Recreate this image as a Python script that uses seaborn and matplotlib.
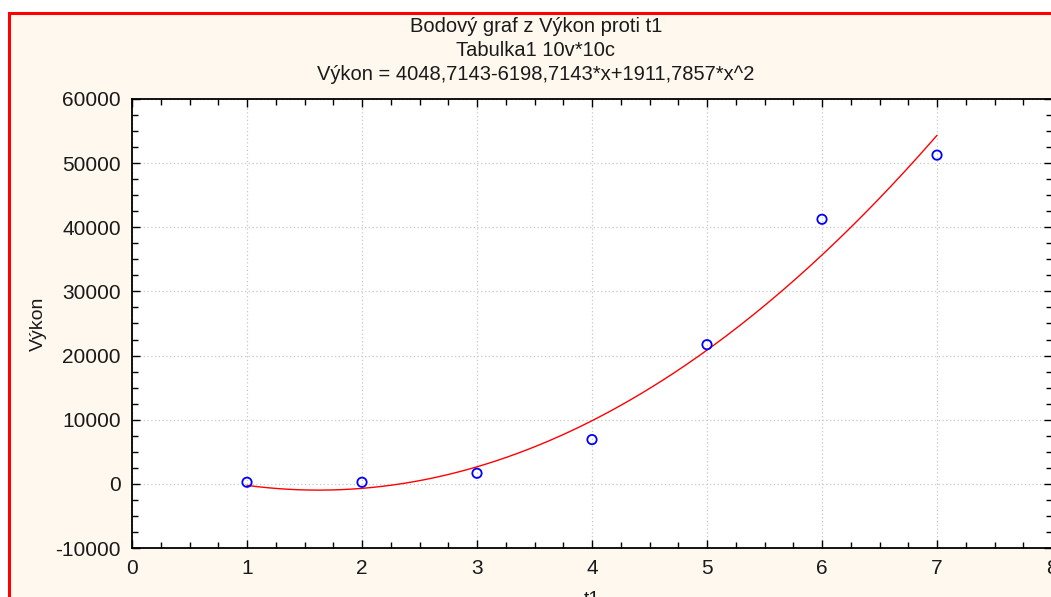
import numpy as np
import pandas as pd
import matplotlib
matplotlib.use("Agg")
import matplotlib.pyplot as plt
from matplotlib.patches import Rectangle
from matplotlib.ticker import MultipleLocator
import seaborn as sns

# Measured data
t1 = [1, 2, 3, 4, 5, 6, 7]
vykon = [250, 250, 1650, 6900, 21700, 41250, 51250]

# Quadratic fit coefficients (a + b*x + c*x^2)
coef_a = 4048.7143
coef_b = -6198.7143
coef_c = 1911.7857

title_lines = [
    "Bodový graf z Výkon proti t1",
    "Tabulka1 10v*10c",
    "Výkon = 4048,7143-6198,7143*x+1911,7857*x^2",
]
x_ticks = [0, 1, 2, 3, 4, 5, 6, 7, 8]
y_ticks = [-10000, 0, 10000, 20000, 30000, 40000, 50000, 60000]

sns.set_style("ticks")
plt.rcParams["font.family"] = ["Liberation Sans", "DejaVu Sans"]

W, H = 1051, 597
fig = plt.figure(figsize=(W / 100, H / 100), dpi=100, facecolor="white")

# Cream panel with red frame
panel = Rectangle((9 / W, -0.05), 1.2, (H - 13) / H + 0.05, transform=fig.transFigure,
                  facecolor="#fef8ee", edgecolor="#ff0000", linewidth=2.2, zorder=-10)
fig.patches.append(panel)

ax = fig.add_axes([132 / W, (H - 548) / H, 920 / W, 449 / H])
ax.set_zorder(1)
ax.set_facecolor("white")

df_pts = pd.DataFrame({"t1": t1, "Výkon": vykon})
xs = np.linspace(t1[0], t1[-1], 200)
df_fit = pd.DataFrame({"t1": xs, "Výkon": coef_a + coef_b * xs + coef_c * xs ** 2})

sns.lineplot(data=df_fit, x="t1", y="Výkon", ax=ax, color="#ff0000", linewidth=1.0, zorder=3)
sns.scatterplot(data=df_pts, x="t1", y="Výkon", ax=ax, marker="o", s=45,
                facecolor="none", edgecolor="#0000ff", linewidth=1.3, zorder=4)

ax.set_xlim(0, 8)
ax.set_ylim(-10000, 60000)
ax.set_xticks(x_ticks)
ax.set_yticks(y_ticks)
ax.set_xticklabels([str(v) for v in x_ticks])
ax.set_yticklabels([str(v) for v in y_ticks])
ax.xaxis.set_minor_locator(MultipleLocator(0.25))
ax.yaxis.set_minor_locator(MultipleLocator(2500))
ax.tick_params(which="both", direction="in", top=True, right=True, colors="black",
               labelcolor="#1a1a1a", labelsize=15)
ax.tick_params(which="major", length=6, width=1.0, pad=8)
ax.tick_params(which="minor", length=4, width=1.0)
ax.grid(True, which="major", linestyle=(0, (1, 2)), color="#c8c8c8", linewidth=0.9)
for s in ax.spines.values():
    s.set_color("black")
    s.set_linewidth(1.3)

ax.set_xlabel("t1", fontsize=14, labelpad=9, color="#1a1a1a")
ax.set_ylabel("Výkon", fontsize=14, labelpad=6, color="#1a1a1a")

for i, line in enumerate(title_lines):
    fig.text(536 / W, 1 - (27 + 23.5 * i) / H, line, ha="center", va="center",
             fontsize=14.5, color="#1a1a1a")

fig.savefig("out.png", dpi=100, facecolor="white")
